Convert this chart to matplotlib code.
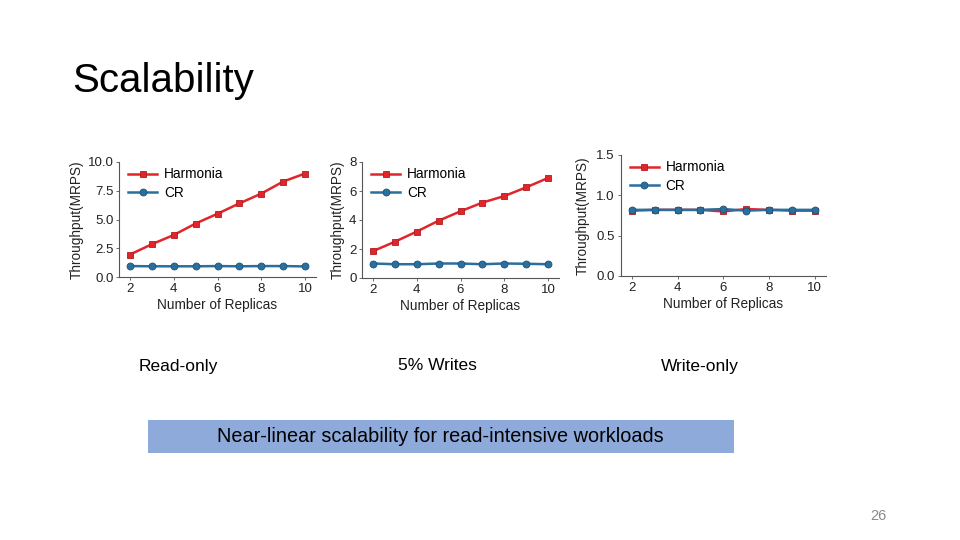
import matplotlib.pyplot as plt
from matplotlib.patches import Rectangle

plt.rcParams['font.family'] = ['Liberation Sans', 'DejaVu Sans']

replicas = [2, 3, 4, 5, 6, 7, 8, 9, 10]

# Read-only
harmonia_read = [1.95, 2.85, 3.65, 4.65, 5.5, 6.4, 7.25, 8.3, 9.0]
cr_read = [0.95, 0.93, 0.93, 0.93, 0.95, 0.93, 0.95, 0.95, 0.92]

# 5% writes
harmonia_mixed = [1.85, 2.5, 3.2, 3.95, 4.6, 5.2, 5.65, 6.25, 6.9]
cr_mixed = [1.0, 0.95, 0.95, 1.0, 1.0, 0.95, 1.0, 0.98, 0.95]

# Write-only
harmonia_write = [0.81, 0.82, 0.82, 0.82, 0.80, 0.83, 0.82, 0.81, 0.81]
cr_write = [0.82, 0.82, 0.82, 0.82, 0.83, 0.81, 0.82, 0.82, 0.82]

captions = ['Read-only', '5% Writes', 'Write-only']

W, H = 960, 540
RED = '#e0252b'
RED_EDGE = '#b01c20'
BLUE = '#2a6f9e'
BLUE_EDGE = '#1d5378'

fig = plt.figure(figsize=(9.6, 5.4), dpi=100)


def px_axes(left, top, right, bottom):
    return fig.add_axes([left / W, 1 - bottom / H, (right - left) / W, (bottom - top) / H])


def small_chart(ax, harm, cr, ymax, yticks, yfmt, ylab_x):
    ax.plot(replicas, harm, color=RED, lw=1.8, marker='s', ms=5,
            mfc=RED, mec=RED_EDGE, mew=0.6, label='Harmonia', zorder=3)
    ax.plot(replicas, cr, color=BLUE, lw=1.8, marker='o', ms=5,
            mfc=BLUE, mec=BLUE_EDGE, mew=0.6, label='CR', zorder=4)
    ax.set_xlim(1.5, 10.5)
    ax.set_ylim(0, ymax)
    ax.set_xticks([2, 4, 6, 8, 10])
    ax.set_yticks(yticks)
    ax.set_yticklabels([yfmt % v for v in yticks])
    for s in ['top', 'right']:
        ax.spines[s].set_visible(False)
    for s in ['left', 'bottom']:
        ax.spines[s].set_color('#555555')
        ax.spines[s].set_linewidth(0.8)
    ax.tick_params(labelsize=9.5, length=2, width=0.6, colors='#555555',
                   labelcolor='#222222', pad=2)
    ax.set_xlabel('Number of Replicas', fontsize=9.8, color='#222222', labelpad=2.5)
    ax.set_ylabel('Throughput(MRPS)', fontsize=9.8, color='#222222')
    ax.yaxis.set_label_coords(ylab_x, 0.5)
    ax.legend(loc='upper left', frameon=False, fontsize=9.8, handlelength=2.1,
              handletextpad=0.5, borderaxespad=0.0, labelspacing=0.35,
              bbox_to_anchor=(0.02, 1.0))


ax1 = px_axes(119, 162, 316, 277)
small_chart(ax1, harmonia_read, cr_read, 10, [0, 2.5, 5.0, 7.5, 10.0], '%.1f', -0.18)

ax2 = px_axes(362, 162, 559, 278)
small_chart(ax2, harmonia_mixed, cr_mixed, 8, [0, 2, 4, 6, 8], '%d', -0.086)

ax3 = px_axes(620.5, 155, 826, 276)
small_chart(ax3, harmonia_write, cr_write, 1.5, [0, 0.5, 1.0, 1.5], '%.1f', -0.148)

# slide title
fig.text(72 / W, 1 - 81 / H, 'Scalability', fontsize=29, color='black', va='center', ha='left')

# captions under each chart
cap_x = [178, 437, 700]
for x, c in zip(cap_x, captions):
    fig.text(x / W, 1 - 366 / H, c, fontsize=12.5, ha='center', va='center', color='black')

# highlight box
fig.patches.append(Rectangle((148 / W, 1 - 453 / H), (734 - 148) / W, 33 / H,
                             transform=fig.transFigure, facecolor='#8eaadb',
                             edgecolor='none', zorder=0))
fig.text(440 / W, 1 - 437 / H, 'Near-linear scalability for read-intensive workloads',
         fontsize=14.3, ha='center', va='center', color='black')

# page number
fig.text(878 / W, 1 - 516 / H, '26', fontsize=10.5, ha='center', va='center', color='#8a8a8a')

fig.savefig('out.png', dpi=100)
